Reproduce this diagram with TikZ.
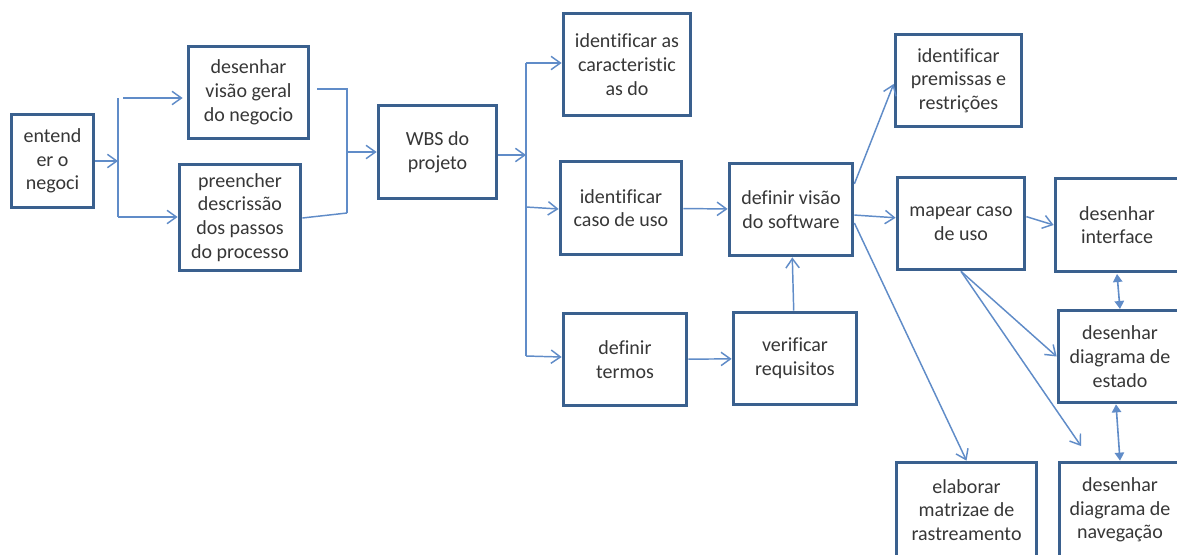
\documentclass[tikz,border=0pt]{standalone}
\usepackage{fontspec}
\setmainfont[Ligatures=NoCommon]{Carlito}
\usetikzlibrary{arrows.meta}
\definecolor{borda}{RGB}{58,96,142}
\definecolor{linha}{RGB}{96,140,200}
\definecolor{texto}{RGB}{55,55,55}
\begin{document}
\begin{tikzpicture}[x=0.75pt,y=-0.75pt,
    caixa/.style 2 args={draw=borda, line width=2.8pt, fill=white, text=texto,
        align=center, inner sep=0pt, font=\fontsize{15}{17.8}\selectfont,
        minimum width=#1*0.75pt, minimum height=#2*0.75pt},
    seta/.style={draw=linha, line width=1.1pt, -{Straight Barb[length=7pt,width=10pt]}},
    liga/.style={draw=linha, line width=1.1pt},
    dupla/.style={draw=linha, line width=1.2pt, {Triangle[length=6pt,width=7pt]}-{Triangle[length=6pt,width=7pt]}}]
        % Area do desenho
        \useasboundingbox[fill=white] (0,0) rectangle (1177,554);

        % Caixas
        \node[caixa={82}{93}] (ent) at (52.5,161) {entend\\er o\\negoci};
        \node[caixa={120}{92}] (vis) at (248.5,92.5) {desenhar\\visão geral\\do negocio};
        \node[caixa={121}{106}] (pre) at (240,217.5) {preencher\\descrissão\\dos passos\\do processo};
        \node[caixa={118}{93}] (wbs) at (437.5,152) {WBS do\\projeto};
        \node[caixa={127}{102}] (car) at (627,64.5) {identificar as\\caracteristic\\as do};
        \node[caixa={121}{93}] (cas) at (621,208) {identificar\\caso de uso};
        \node[caixa={123}{92}] (ter) at (625,359.5) {definir\\termos};
        \node[caixa={123}{92}] (sof) at (791,209.5) {definir visão\\do software};
        \node[caixa={123}{92}] (ver) at (795,358.5) {verificar\\requisitos};
        \node[caixa={126}{92}] (prm) at (958.5,80.5) {identificar\\premissas e\\restrições};
        \node[caixa={127}{92}] (map) at (961,223.5) {mapear caso\\de uso};
        \node[caixa={123}{93}] (int) at (1117,225) {desenhar\\interface};
        \node[caixa={123}{92}] (est) at (1120,356.5) {desenhar\\diagrama de\\estado};
        \node[caixa={140}{95}] (mat) at (966.5,510) {elaborar\\matrizae de\\rastreamento};
        \node[caixa={121}{95}] (nav) at (1120,510) {desenhar\\diagrama de\\navegação};

        % Pontos das bifurcacoes
        \coordinate (f1) at (118,161);
        \coordinate (f1a) at (118,98);
        \coordinate (f1b) at (118,217);
        \coordinate (f2) at (347,152);
        \coordinate (f2a) at (347,89);
        \coordinate (f2b) at (347,213);
        \coordinate (f3) at (526,155);
        \coordinate (f3a) at (526,63);
        \coordinate (f3b) at (526,207);
        \coordinate (f3c) at (526,356);
        \coordinate (solto) at (1081,446);

        % Entender o negocio
        \draw[seta] (ent.east |- f1) -- (f1);
        \draw[liga] (f1a) -- (f1b);
        \draw[seta] ([xshift=4pt]f1a) -- ([xshift=-3pt]vis.west |- f1a);
        \draw[seta] (f1b) -- (pre.west |- f1b);

        % Juntar no WBS
        \draw[liga] ([xshift=5pt]vis.east |- f2a) -- (f2a) -- (f2b);
        \draw[liga] (pre.east |- 0,218) -- (f2b);
        \draw[seta] (f2) -- (wbs.west |- f2);

        % WBS do projeto
        \draw[seta] (wbs.east |- f3) -- (f3);
        \draw[liga] (f3a) -- (f3c);
        \draw[seta] (f3a) -- (car.west |- f3a);
        \draw[seta] (f3b) -- (cas.west |- 0,209);
        \draw[seta] (f3c) -- (ter.west |- 0,357);

        % Visao do software
        \draw[seta] (cas) -- (sof);
        \draw[seta] (ter) -- (ver);
        \draw[seta] (ver) -- (sof);
        \draw[seta] (sof.22) -- (prm.west |- 0,84);
        \draw[seta] (sof.-5) -- (map.175);
        \draw[seta] (sof.-12) -- (mat.north);

        % Mapear caso de uso
        \draw[seta] (map.6) -- (int.west);
        \draw[seta] (map.south) -- (est.west);
        \draw[seta] (map.south) -- (solto);

        % Setas duplas
        \draw[dupla] (int.south |- 0,274) -- (est.north |- 0,309);
        \draw[dupla] ([xshift=-3pt]est.south) -- (nav.north);
\end{tikzpicture}
\end{document}
